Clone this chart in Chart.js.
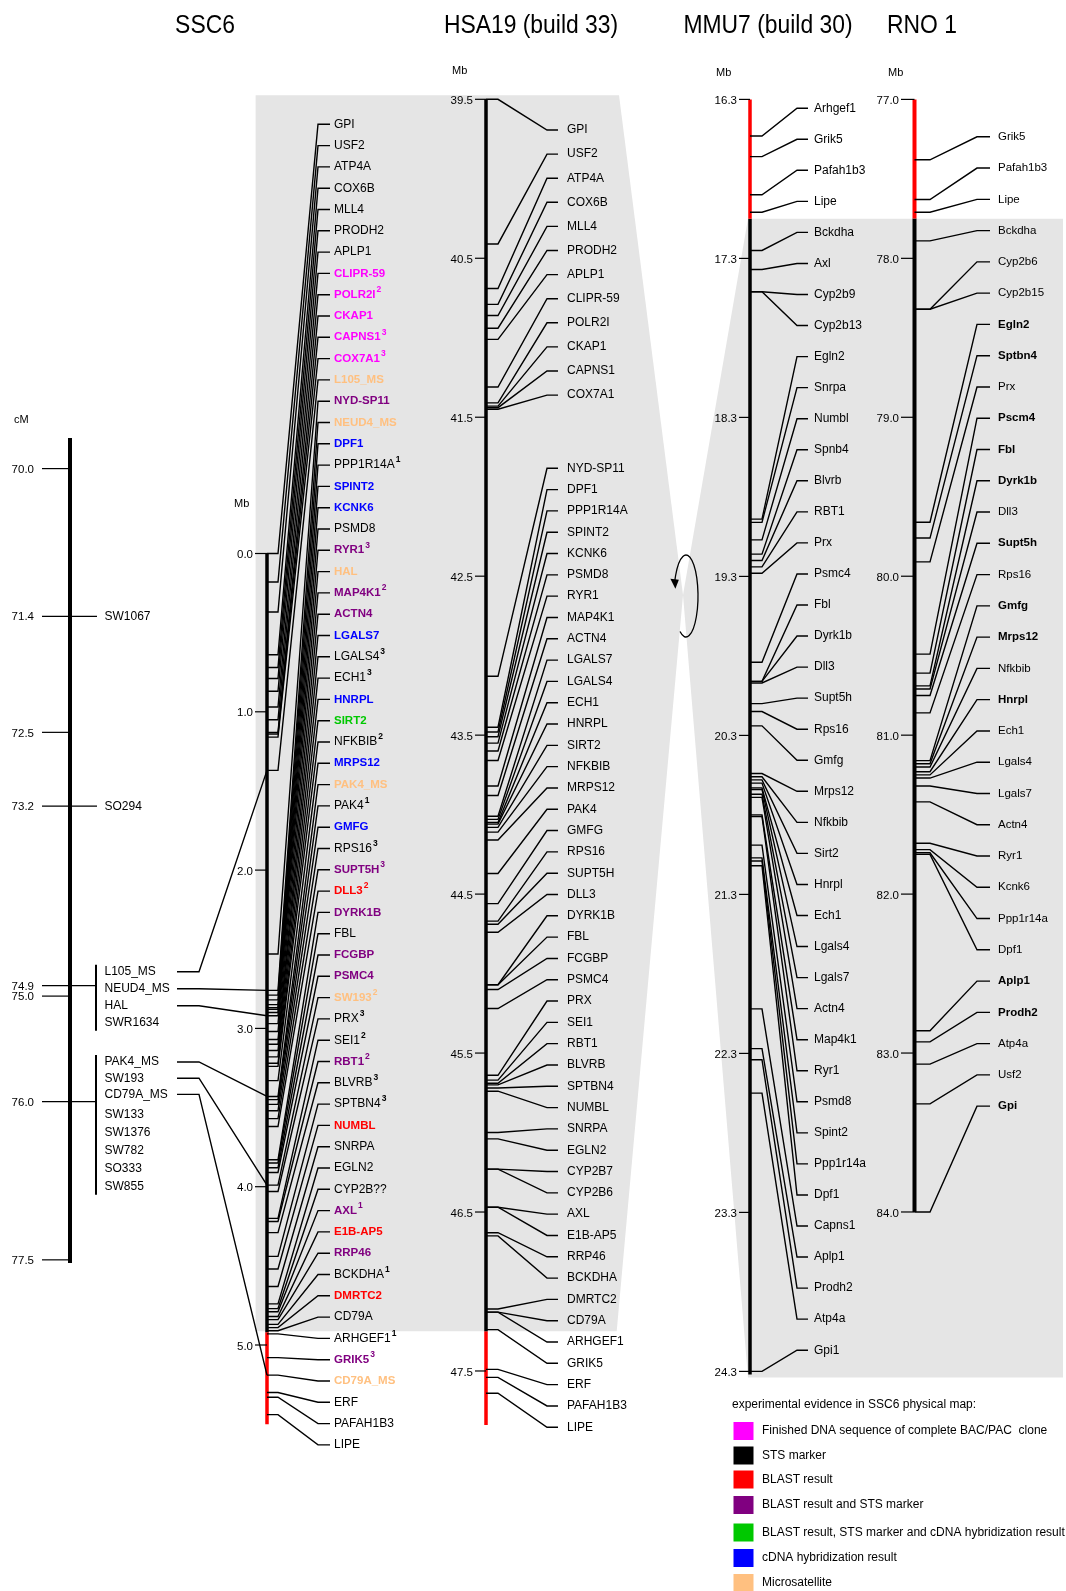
<!DOCTYPE html>
<html>
<head>
<meta charset="utf-8">
<title>SSC6 comparative map</title>
<script src="https://cdn.jsdelivr.net/npm/chart.js@4.4.1/dist/chart.umd.min.js"></script>
<style>
  html, body { margin: 0; padding: 0; background: #fff; }
  canvas { display: block; }
</style>
</head>
<body>
<canvas id="mapChart" width="1066" height="1591"></canvas>
<script>
// ---- values ----
const titles = ["SSC6", "HSA19 (build 33)", "MMU7 (build 30)", "RNO 1"];

// SSC6 linkage map (cM)
const cmTicks = [70.0, 71.4, 72.5, 73.2, 74.9, 75.0, 76.0, 77.5];
const cmSpan = [69.71, 77.53];
const cmSingles = ["SW1067", "SO294"];
const cmSinglePos = [71.4, 73.2];
const cmBinA = ["L105_MS", "NEUD4_MS", "HAL", "SWR1634"];            // 74.9 cM
const cmBinB = ["PAK4_MS", "SW193", "CD79A_MS", "SW133", "SW1376", "SW782", "SO333", "SW855"]; // 76.0 cM
const cmBinPos = [74.9, 76.0];
const anchoredMarkers = ["L105_MS", "NEUD4_MS", "HAL", "PAK4_MS", "SW193", "CD79A_MS"];

// SSC6 physical map (Mb)
const sscTicks = [0.0, 1.0, 2.0, 3.0, 4.0, 5.0];
const sscSpan = [0.0, 4.92, 5.5];   // conserved block, then red tail
const sscGenes = ["GPI", "USF2", "ATP4A", "COX6B", "MLL4", "PRODH2", "APLP1", "CLIPR-59", "POLR2I", "CKAP1",
  "CAPNS1", "COX7A1", "L105_MS", "NYD-SP11", "NEUD4_MS", "DPF1", "PPP1R14A", "SPINT2", "KCNK6", "PSMD8",
  "RYR1", "HAL", "MAP4K1", "ACTN4", "LGALS7", "LGALS4", "ECH1", "HNRPL", "SIRT2", "NFKBIB",
  "MRPS12", "PAK4_MS", "PAK4", "GMFG", "RPS16", "SUPT5H", "DLL3", "DYRK1B", "FBL", "FCGBP",
  "PSMC4", "SW193", "PRX", "SEI1", "RBT1", "BLVRB", "SPTBN4", "NUMBL", "SNRPA", "EGLN2",
  "CYP2B??", "AXL", "E1B-AP5", "RRP46", "BCKDHA", "DMRTC2", "CD79A", "ARHGEF1", "GRIK5", "CD79A_MS",
  "ERF", "PAFAH1B3", "LIPE"];
const sscMb = [0.00, 0.18, 0.37, 0.64, 0.72, 0.79, 0.87, 0.97, 1.05, 1.13,
  1.14, 1.16, 1.37, 2.53, 2.76, 2.79, 2.82, 2.85, 2.87, 2.88,
  2.90, 2.92, 2.97, 3.02, 3.07, 3.10, 3.14, 3.18, 3.22, 3.24,
  3.33, 3.43, 3.45, 3.48, 3.52, 3.57, 3.62, 3.83, 3.85, 3.88,
  3.91, 3.99, 4.03, 4.20, 4.22, 4.29, 4.44, 4.52, 4.63, 4.74,
  4.77, 4.79, 4.82, 4.84, 4.87, 4.89, 4.91, 4.93, 5.08, 5.19,
  5.30, 5.33, 5.44];
// F finished BAC/PAC, S STS, B BLAST, BS BLAST+STS, BSC BLAST+STS+cDNA, C cDNA, M microsatellite
const sscEvidence = ["S", "S", "S", "S", "S", "S", "S", "F", "F", "F",
  "F", "F", "M", "BS", "M", "C", "S", "C", "C", "S",
  "BS", "M", "BS", "BS", "C", "S", "S", "C", "BSC", "S",
  "C", "M", "S", "C", "S", "BS", "B", "BS", "S", "BS",
  "BS", "M", "S", "S", "BS", "S", "S", "B", "S", "S",
  "S", "BS", "B", "BS", "S", "B", "S", "S", "BS", "M",
  "S", "S", "S"];
const sscNote = ["", "", "", "", "", "", "", "", "2", "",
  "3", "3", "", "", "", "", "1", "", "", "",
  "3", "", "2", "", "", "3", "3", "", "", "2",
  "", "", "1", "", "3", "3", "2", "", "", "",
  "", "2", "3", "2", "2", "3", "3", "", "", "",
  "", "1", "", "", "1", "", "", "1", "3", "",
  "", "", ""];

// HSA19 (Mb)
const hsaTicks = [39.5, 40.5, 41.5, 42.5, 43.5, 44.5, 45.5, 46.5, 47.5];
const hsaSpan = [39.5, 47.25, 47.84];
const hsaGenes = ["GPI", "USF2", "ATP4A", "COX6B", "MLL4", "PRODH2", "APLP1", "CLIPR-59", "POLR2I", "CKAP1",
  "CAPNS1", "COX7A1", "NYD-SP11", "DPF1", "PPP1R14A", "SPINT2", "KCNK6", "PSMD8", "RYR1", "MAP4K1",
  "ACTN4", "LGALS7", "LGALS4", "ECH1", "HNRPL", "SIRT2", "NFKBIB", "MRPS12", "PAK4", "GMFG",
  "RPS16", "SUPT5H", "DLL3", "DYRK1B", "FBL", "FCGBP", "PSMC4", "PRX", "SEI1", "RBT1",
  "BLVRB", "SPTBN4", "NUMBL", "SNRPA", "EGLN2", "CYP2B7", "CYP2B6", "AXL", "E1B-AP5", "RRP46",
  "BCKDHA", "DMRTC2", "CD79A", "ARHGEF1", "GRIK5", "ERF", "PAFAH1B3", "LIPE"];
const hsaMb = [39.50, 40.41, 40.69, 40.79, 40.86, 40.94, 41.01, 41.31, 41.41, 41.43,
  41.44, 41.45, 43.13, 43.45, 43.48, 43.51, 43.55, 43.60, 43.66, 43.82,
  43.88, 44.01, 44.03, 44.05, 44.06, 44.08, 44.11, 44.16, 44.37, 44.56,
  44.67, 44.69, 44.74, 45.07, 45.07, 45.10, 45.22, 45.64, 45.67, 45.69,
  45.70, 45.72, 45.74, 46.00, 46.04, 46.23, 46.23, 46.47, 46.47, 46.63,
  46.65, 47.11, 47.13, 47.13, 47.24, 47.49, 47.54, 47.64];

// MMU7 (Mb)
const mmuTicks = [16.3, 17.3, 18.3, 19.3, 20.3, 21.3, 22.3, 23.3, 24.3];
const mmuSpan = [16.3, 17.05, 24.32];  // red head, then conserved block
const mmuGenes = ["Arhgef1", "Grik5", "Pafah1b3", "Lipe", "Bckdha", "Axl", "Cyp2b9", "Cyp2b13", "Egln2", "Snrpa",
  "Numbl", "Spnb4", "Blvrb", "RBT1", "Prx", "Psmc4", "Fbl", "Dyrk1b", "Dll3", "Supt5h",
  "Rps16", "Gmfg", "Mrps12", "Nfkbib", "Sirt2", "Hnrpl", "Ech1", "Lgals4", "Lgals7", "Actn4",
  "Map4k1", "Ryr1", "Psmd8", "Spint2", "Ppp1r14a", "Dpf1", "Capns1", "Aplp1", "Prodh2", "Atp4a",
  "Gpi1"];
const mmuMb = [16.53, 16.66, 16.90, 17.01, 17.25, 17.37, 17.51, 17.51, 18.94, 18.96,
  19.07, 19.16, 19.20, 19.24, 19.28, 19.84, 19.96, 19.96, 19.97, 20.10,
  20.15, 20.24, 20.54, 20.56, 20.58, 20.60, 20.63, 20.64, 20.67, 20.69,
  20.80, 20.81, 20.99, 21.07, 21.09, 21.12, 22.02, 22.27, 22.34, 22.55,
  24.30];

// RNO1 (Mb)
const rnoTicks = [77.0, 78.0, 79.0, 80.0, 81.0, 82.0, 83.0, 84.0];
const rnoSpan = [77.0, 77.75, 84.0];
const rnoGenes = ["Grik5", "Pafah1b3", "Lipe", "Bckdha", "Cyp2b6", "Cyp2b15", "Egln2", "Sptbn4", "Prx", "Pscm4",
  "Fbl", "Dyrk1b", "Dll3", "Supt5h", "Rps16", "Gmfg", "Mrps12", "Nfkbib", "Hnrpl", "Ech1",
  "Lgals4", "Lgals7", "Actn4", "Ryr1", "Kcnk6", "Ppp1r14a", "Dpf1", "Aplp1", "Prodh2", "Atp4a",
  "Usf2", "Gpi"];
const rnoMb = [77.38, 77.63, 77.71, 77.89, 78.32, 78.32, 79.66, 79.76, 79.91, 80.49,
  80.61, 80.69, 80.71, 80.75, 80.86, 81.16, 81.18, 81.20, 81.23, 81.25,
  81.27, 81.32, 81.42, 81.68, 81.72, 81.74, 81.75, 82.86, 82.93, 83.07,
  83.32, 84.00];
const rnoHighlighted = ["Egln2", "Sptbn4", "Pscm4", "Fbl", "Dyrk1b", "Supt5h", "Gmfg", "Mrps12", "Hnrpl",
  "Aplp1", "Prodh2", "Gpi"];

const legendTitle = "experimental evidence in SSC6 physical map:";
const legendCodes = ["F", "S", "B", "BS", "BSC", "C", "M"];
const legendLabels = ["Finished DNA sequence of complete BAC/PAC  clone", "STS marker", "BLAST result",
  "BLAST result and STS marker", "BLAST result, STS marker and cDNA hybridization result",
  "cDNA hybridization result", "Microsatellite"];

// ---- styling / layout ----
const W = 1066, H = 1591;
const FONT = '"Liberation Sans", Arial, Helvetica, sans-serif';
const evidenceColor = { F: "#ff00ff", S: "#000000", B: "#ff0000", BS: "#800080", BSC: "#00c800", C: "#0000ff", M: "#ffc080" };
const GREY = "#e5e5e5";

// where each map's value range lands on the page
const mapFrame = {
  cm:  { val: 70.0, px: 468.6, perUnit: 105.5 },
  ssc: { val: 0.0,  px: 553.5, perUnit: 158.3 },
  hsa: { val: 39.5, px: 99.3,  perUnit: 158.96 },
  mmu: { val: 16.3, px: 99.4,  perUnit: 159.0 },
  rno: { val: 77.0, px: 99.4,  perUnit: 158.94 }
};
// connector geometry per column (x in page units)
const cols = {
  cm:  { axis: 70, tick0: 42, markerEnd: 97, text: 104.5 },
  ssc: { axis: 267, stub: 278, bend: 318, tail: 330, text: 334, tick0: 255, num: 253, mb: [234, 504] },
  hsa: { axis: 486, stub: 498, bend: 547, tail: 558, text: 567, tick0: 475, num: 473, mb: [452, 71] },
  mmu: { axis: 750, stub: 762, bend: 797, tail: 808, text: 814, tick0: 739, num: 737, mb: [716, 73] },
  rno: { axis: 914.5, stub: 930, bend: 977, tail: 990, text: 998, tick0: 901, num: 899, mb: [888, 73] }
};
// label slots (first label y, spacing), per run of labels
const slots = {
  ssc: [{ from: 0, y0: 124.3, step: 21.3 }],
  hsa: [{ from: 0, y0: 130, step: 24.1 }, { from: 12, y0: 468.3, step: 21.31 }],
  mmu: [{ from: 0, y0: 108.2, step: 31.05 }],
  rno: [{ from: 0, y0: 136.8, step: 31.27 }],
  cmA: [{ from: 0, y0: 971.7, step: 17.0 }],
  cmB: [{ from: 0, y0: 1062, step: 16.2 }, { from: 3, y0: 1114.7, step: 18.0 }]
};
const titleX = [205, 531, 768, 922];

function mapScale(key) {
  const f = mapFrame[key];
  const min = f.val - f.px / f.perUnit;
  return { type: "linear", axis: "y", reverse: true, display: false, min: min, max: min + H / f.perUnit };
}

function slotValue(key, i) {
  const runs = slots[key];
  let r = runs[0];
  runs.forEach(function (run) { if (i >= run.from) r = run; });
  return r.y0 + (i - r.from) * r.step;
}

function spanSet(key, from, to, color, width) {
  const x = cols[key].axis;
  return {
    data: [{ x: x, y: from }, { x: x, y: to }],
    xAxisID: "x", yAxisID: key,
    showLine: true, borderColor: color, borderWidth: width,
    pointRadius: 0, borderCapStyle: "butt", fill: false
  };
}

const datasets = [
  spanSet("cm", cmSpan[0], cmSpan[1], "#000", 4),
  spanSet("ssc", sscSpan[0], sscSpan[1], "#000", 3.5),
  spanSet("ssc", sscSpan[1], sscSpan[2], "#ff0000", 3.5),
  spanSet("hsa", hsaSpan[0], hsaSpan[1], "#000", 3.5),
  spanSet("hsa", hsaSpan[1], hsaSpan[2], "#ff0000", 3.5),
  spanSet("mmu", mmuSpan[0], mmuSpan[1], "#ff0000", 3.5),
  spanSet("mmu", mmuSpan[1], mmuSpan[2], "#000", 3.5),
  spanSet("rno", rnoSpan[0], rnoSpan[1], "#ff0000", 4),
  spanSet("rno", rnoSpan[1], rnoSpan[2], "#000", 4)
];

// ---- drawing helpers ----
function font(size, bold) { return (bold ? "bold " : "") + size + "px " + FONT; }

function line(ctx, pts) {
  ctx.beginPath();
  ctx.moveTo(pts[0][0], pts[0][1]);
  for (let i = 1; i < pts.length; i++) ctx.lineTo(pts[i][0], pts[i][1]);
  ctx.stroke();
}

function drawShading(chart) {
  const ctx = chart.ctx, X = chart.scales.x, Y = chart.scales.y;
  const hsa = chart.scales.hsa, mmu = chart.scales.mmu;
  const top = hsa.getPixelForValue(hsaSpan[0]) - 4, bot = hsa.getPixelForValue(hsaSpan[1]);
  const mTop = mmu.getPixelForValue(mmuSpan[1]), mBot = mmu.getPixelForValue(mmuSpan[2]) + 3;
  const apex = [X.getPixelForValue(683), Y.getPixelForValue(595)];
  ctx.save();
  ctx.fillStyle = GREY;
  ctx.beginPath();
  ctx.moveTo(X.getPixelForValue(255.6), top);
  ctx.lineTo(X.getPixelForValue(619), top);
  ctx.lineTo(apex[0], apex[1]);
  ctx.lineTo(X.getPixelForValue(616.7), bot);
  ctx.lineTo(X.getPixelForValue(255.6), bot);
  ctx.closePath();
  ctx.fill();
  ctx.beginPath();
  ctx.moveTo(apex[0], apex[1]);
  ctx.lineTo(X.getPixelForValue(748), mTop);
  ctx.lineTo(X.getPixelForValue(1063), mTop);
  ctx.lineTo(X.getPixelForValue(1063), mBot);
  ctx.lineTo(X.getPixelForValue(748), mBot);
  ctx.closePath();
  ctx.fill();
  ctx.restore();
}

function drawTicks(chart, key, ticks, digits) {
  const ctx = chart.ctx, X = chart.scales.x, S = chart.scales[key], c = cols[key];
  ctx.strokeStyle = "#000"; ctx.lineWidth = 1.2;
  ctx.fillStyle = "#000"; ctx.font = font(11.5, false);
  ctx.textAlign = "right"; ctx.textBaseline = "middle";
  ticks.forEach(function (t) {
    const y = S.getPixelForValue(t);
    line(ctx, [[X.getPixelForValue(c.tick0), y], [X.getPixelForValue(c.axis), y]]);
    ctx.fillText(t.toFixed(digits), X.getPixelForValue(c.num), y + 1.5);
  });
  ctx.textAlign = "left";
  ctx.font = font(11, false);
  ctx.fillText("Mb", X.getPixelForValue(c.mb[0]), chart.scales.y.getPixelForValue(c.mb[1]));
}

function drawColumn(chart, key, genes, mb, styleOf) {
  const ctx = chart.ctx, X = chart.scales.x, Y = chart.scales.y, S = chart.scales[key], c = cols[key];
  ctx.strokeStyle = "#000"; ctx.lineWidth = 1.4; ctx.lineJoin = "miter";
  genes.forEach(function (g, i) {
    const ya = S.getPixelForValue(mb[i]);
    const yl = Y.getPixelForValue(slotValue(key, i));
    line(ctx, [[X.getPixelForValue(c.axis), ya], [X.getPixelForValue(c.stub), ya],
               [X.getPixelForValue(c.bend), yl], [X.getPixelForValue(c.tail), yl]]);
  });
  ctx.textAlign = "left"; ctx.textBaseline = "middle";
  genes.forEach(function (g, i) {
    const st = styleOf(g, i);
    const yl = Y.getPixelForValue(slotValue(key, i));
    const x = X.getPixelForValue(c.text);
    ctx.font = font(st.size, st.bold);
    ctx.fillStyle = st.color;
    ctx.fillText(g, x, yl);
    if (st.note) {
      const w = ctx.measureText(g).width;
      ctx.font = font(8.5, true);
      ctx.fillText(st.note, x + w + 1, yl - 5);
    }
  });
}

function drawLinkage(chart) {
  const ctx = chart.ctx, X = chart.scales.x, Y = chart.scales.y, CM = chart.scales.cm, SSC = chart.scales.ssc;
  const c = cols.cm;
  ctx.fillStyle = "#000"; ctx.strokeStyle = "#000";
  ctx.font = font(11, false); ctx.textAlign = "left"; ctx.textBaseline = "middle";
  ctx.fillText("cM", X.getPixelForValue(14), Y.getPixelForValue(420));
  const markerTicks = cmSinglePos.concat([cmBinPos[0], cmBinPos[1]]);
  ctx.lineWidth = 1.2;
  cmTicks.forEach(function (t) {
    const y = CM.getPixelForValue(t);
    const end = markerTicks.indexOf(t) >= 0 ? c.markerEnd : c.axis;
    line(ctx, [[X.getPixelForValue(c.tick0), y], [X.getPixelForValue(end), y]]);
    ctx.font = font(11.5, false); ctx.textAlign = "right";
    ctx.fillText(t.toFixed(1), X.getPixelForValue(34), y + 1);
  });
  ctx.textAlign = "left"; ctx.font = font(12, false);
  cmSingles.forEach(function (m, i) {
    ctx.fillText(m, X.getPixelForValue(c.text), CM.getPixelForValue(cmSinglePos[i]));
  });
  // bins with bracket
  const bins = [["cmA", cmBinA], ["cmB", cmBinB]];
  bins.forEach(function (b) {
    const names = b[1];
    const y0 = Y.getPixelForValue(slotValue(b[0], 0)) - 7;
    const y1 = Y.getPixelForValue(slotValue(b[0], names.length - 1)) + 8;
    ctx.lineWidth = 2;
    line(ctx, [[X.getPixelForValue(c.markerEnd - 1), y0], [X.getPixelForValue(c.markerEnd - 1), y1]]);
    ctx.font = font(12, false);
    names.forEach(function (m, i) {
      ctx.fillText(m, X.getPixelForValue(c.text), Y.getPixelForValue(slotValue(b[0], i)));
    });
  });
  // links from microsatellites to the physical map
  ctx.lineWidth = 1.4;
  anchoredMarkers.forEach(function (m) {
    let key = "cmA", i = cmBinA.indexOf(m);
    if (i < 0) { key = "cmB"; i = cmBinB.indexOf(m); }
    const yl = Y.getPixelForValue(slotValue(key, i));
    const ya = SSC.getPixelForValue(sscMb[sscGenes.indexOf(m)]);
    line(ctx, [[X.getPixelForValue(177), yl], [X.getPixelForValue(199), yl], [X.getPixelForValue(cols.ssc.axis), ya]]);
  });
}

function drawLoop(chart) {
  const ctx = chart.ctx, X = chart.scales.x, Y = chart.scales.y;
  const cx = X.getPixelForValue(686), cy = Y.getPixelForValue(596);
  const a0 = 120 * Math.PI / 180, a1 = -158 * Math.PI / 180;
  ctx.save();
  ctx.strokeStyle = "#000"; ctx.lineWidth = 1.3;
  ctx.beginPath();
  ctx.ellipse(cx, cy, 12, 41, 0, a0, a1, true);
  ctx.stroke();
  const ex = cx + 12 * Math.cos(a1), ey = cy + 41 * Math.sin(a1);
  ctx.fillStyle = "#000";
  ctx.beginPath();
  ctx.moveTo(ex - 4.5, ey - 2);
  ctx.lineTo(ex + 4, ey - 1);
  ctx.lineTo(ex + 0.5, ey + 8);
  ctx.closePath();
  ctx.fill();
  ctx.restore();
}

function drawTitles(chart) {
  const ctx = chart.ctx, X = chart.scales.x, Y = chart.scales.y;
  ctx.fillStyle = "#000"; ctx.textAlign = "center"; ctx.textBaseline = "middle";
  ctx.font = font(26, false);
  titles.forEach(function (t, i) {
    ctx.save();
    ctx.translate(X.getPixelForValue(titleX[i]), Y.getPixelForValue(26));
    ctx.scale(0.88, 1);
    ctx.fillText(t, 0, 0);
    ctx.restore();
  });
}

function drawLegend(chart) {
  const ctx = chart.ctx, X = chart.scales.x, Y = chart.scales.y;
  ctx.textAlign = "left"; ctx.textBaseline = "middle"; ctx.fillStyle = "#000";
  ctx.font = font(12, false);
  ctx.fillText(legendTitle, X.getPixelForValue(732), Y.getPixelForValue(1405));
  const rows = [1431, 1455.5, 1479.5, 1505, 1532.5, 1558, 1583];
  legendCodes.forEach(function (code, i) {
    const y = Y.getPixelForValue(rows[i]);
    ctx.fillStyle = evidenceColor[code];
    ctx.fillRect(X.getPixelForValue(733.5), y - 9, 20, 18);
    ctx.fillStyle = "#000";
    ctx.fillText(legendLabels[i], X.getPixelForValue(762), y);
  });
}

const mapPlugin = {
  id: "comparativeMap",
  beforeDatasetsDraw: function (chart) { drawShading(chart); },
  afterDatasetsDraw: function (chart) {
    drawTitles(chart);
    drawLinkage(chart);
    drawTicks(chart, "ssc", sscTicks, 1);
    drawTicks(chart, "hsa", hsaTicks, 1);
    drawTicks(chart, "mmu", mmuTicks, 1);
    drawTicks(chart, "rno", rnoTicks, 1);
    drawColumn(chart, "ssc", sscGenes, sscMb, function (g, i) {
      const code = sscEvidence[i];
      return { color: evidenceColor[code], bold: code !== "S", size: code !== "S" ? 11.5 : 12, note: sscNote[i] };
    });
    drawColumn(chart, "hsa", hsaGenes, hsaMb, function () { return { color: "#000", bold: false, size: 12 }; });
    drawColumn(chart, "mmu", mmuGenes, mmuMb, function () { return { color: "#000", bold: false, size: 12 }; });
    drawColumn(chart, "rno", rnoGenes, rnoMb, function (g) {
      const hi = rnoHighlighted.indexOf(g) >= 0;
      return { color: "#000", bold: hi, size: 11.5 };
    });
    drawLoop(chart);
    drawLegend(chart);
  }
};

new Chart(document.getElementById("mapChart").getContext("2d"), {
  type: "scatter",
  data: { datasets: datasets },
  options: {
    responsive: false,
    animation: false,
    devicePixelRatio: 1,
    layout: { padding: 0 },
    plugins: { legend: { display: false }, tooltip: { enabled: false }, title: { display: false } },
    scales: {
      x: { type: "linear", axis: "x", min: 0, max: W, display: false },
      y: { type: "linear", axis: "y", min: 0, max: H, reverse: true, display: false },
      cm: mapScale("cm"),
      ssc: mapScale("ssc"),
      hsa: mapScale("hsa"),
      mmu: mapScale("mmu"),
      rno: mapScale("rno")
    }
  },
  plugins: [mapPlugin]
});
</script>
</body>
</html>
